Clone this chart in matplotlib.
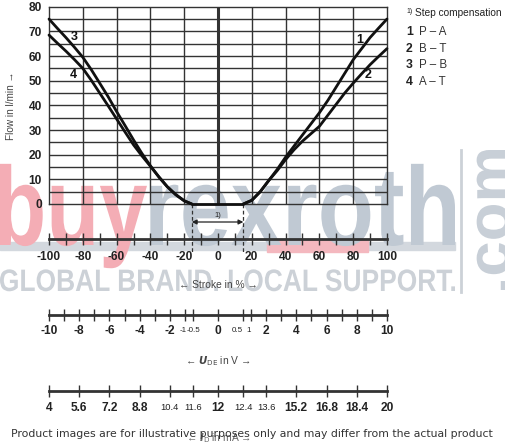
import numpy as np
import matplotlib
matplotlib.use("Agg")
import matplotlib.pyplot as plt
from matplotlib.transforms import blended_transform_factory, Affine2D
from matplotlib.textpath import TextPath
from matplotlib.patches import PathPatch
from matplotlib.font_manager import FontProperties

FAM = ['Liberation Sans', 'DejaVu Sans']
plt.rcParams['font.family'] = FAM

# curves (stroke in %, flow in l/min)
s_left = [-100, -95, -90, -85, -80, -75, -70, -65, -60, -55, -50, -45, -40, -35, -30, -25, -20, -15.5]
q_pb = [75, 71.2, 67.5, 63.6, 59.5, 54.5, 49, 43.5, 37.5, 31.8, 26, 20.5, 15.5, 11, 7, 3.8, 1.3, 0]
q_at = [68.5, 65.2, 62, 58.6, 55, 50.2, 45, 39.8, 34.5, 29.2, 24, 19.5, 15.3, 11, 7, 3.8, 1.3, 0]
s_right = [15, 20, 25, 30, 35, 40, 45, 50, 55, 60, 65, 70, 75, 80, 85, 90, 95, 100]
q_pa = [0, 1.5, 5, 9.5, 14, 19, 23.5, 28, 32.5, 37, 42, 47.5, 53, 58.5, 63, 67.5, 71.3, 75]
q_bt = [0, 1.5, 5, 9.5, 13.5, 18, 22, 25.5, 28.5, 31.5, 36, 40.5, 45, 49, 52.8, 56.5, 59.8, 63]
step_comp = [-15.5, 15]

stroke_ticks = list(range(-100, 101, 10))
stroke_labels = list(range(-100, 101, 20))
u_ticks = [-10, -9, -8, -7, -6, -5, -4, -3, -2, -1, -0.5, 0, 0.5, 1, 2, 3, 4, 5, 6, 7, 8, 9, 10]
u_labels = [-10, -8, -6, -4, -2, -1, -0.5, 0, 0.5, 1, 2, 4, 6, 8, 10]
i_labels = [4, 5.6, 7.2, 8.8, 10.4, 11.6, 12, 12.4, 13.6, 15.2, 16.8, 18.4, 20]
legend = [('1', 'P – A'), ('2', 'B – T'), ('3', 'P – B'), ('4', 'A – T')]


def u_to_stroke(u):
    u = np.asarray(u, dtype=float)
    a = np.abs(u)
    s = np.where(a <= 0.5, 30 * a, 15 + (a - 0.5) * 85 / 9.5)
    return np.sign(u) * s


def i_to_stroke(i):
    return u_to_stroke((np.asarray(i, dtype=float) - 12) / 0.8)


W, H = 506, 446
fig = plt.figure(figsize=(W / 100, H / 100), dpi=100)
fig.patch.set_facecolor('white')


def fx(px):
    return px / W


def fy(py):
    return (H - py) / H


def wm(s, left, base, width, em_h, color, weight='bold', rot=0):
    # watermark text squeezed to a given ink width (pixel coords)
    tp = TextPath((0, 0), s, size=100, prop=FontProperties(family='Liberation Sans', weight=weight))
    bb = tp.get_extents()
    sx = width / bb.width
    sy = em_h / 100
    tr = Affine2D().translate(-bb.x0, 0).scale(sx, sy).rotate_deg(rot).translate(left, H - base)
    p = PathPatch(tr.transform_path(tp), color=color, lw=0, zorder=-1,
                  transform=matplotlib.transforms.IdentityTransform())
    fig.patches.append(p)


# watermark
fig.patches.append(plt.Rectangle((fx(0), fy(250)), fx(455), 8 / H, transform=fig.transFigure,
                                 color='#d3d8de', zorder=-2))
fig.patches.append(plt.Rectangle((fx(267), fy(252)), fx(101), 12 / H, transform=fig.transFigure,
                                 color='#f4b8bf', zorder=-2))
wm('buy', -1, 245, 148, 112, '#f4adb5')
wm('rexroth', 150, 245, 305, 112, '#c0c9d3')
wm('GLOBAL BRAND. LOCAL SUPPORT.', 0, 291, 455, 31, '#ccd1d7')
wm('.com', 510, 290, 140, 62, '#c8cfd7', rot=90)
fig.lines.append(plt.Line2D([fx(461), fx(461)], [fy(150), fy(292)], transform=fig.transFigure,
                            color='#ccd1d7', lw=2, zorder=-1))

L, R = fx(49), fx(387)
ax = fig.add_axes([L, fy(204), R - L, (204 - 6.7) / H])
ax.patch.set_alpha(0)
ax.set_xlim(-100, 100)
ax.set_ylim(0, 80)
for x in range(-80, 81, 20):
    ax.axvline(x, color='#333333', lw=2.2 if x == 0 else 1, zorder=1)
for y in range(5, 80, 5):
    ax.axhline(y, color='#333333', lw=1, zorder=1)
for sp in ax.spines.values():
    sp.set_color('#333333')
    sp.set_linewidth(1)
ax.set_xticks([])
ax.set_yticks(range(0, 81, 10))
ax.tick_params(axis='y', length=0, pad=5)
for t in ax.get_yticklabels():
    t.set_fontweight('bold')
    t.set_fontsize(8.6)
    t.set_color('#222222')
ax.set_ylabel('Flow in l/min →', fontsize=7.2, color='#444444', labelpad=9)

kw = dict(color='#111111', lw=2, solid_capstyle='round', clip_on=False, zorder=3)
ax.plot(s_left, q_pb, **kw)
ax.plot(s_left, q_at, **kw)
ax.plot(s_right, q_pa, **kw)
ax.plot(s_right, q_bt, **kw)
ax.plot(step_comp, [0, 0], **kw)

for lab, x, y in [('3', -85.3, 67.7), ('4', -85.5, 52.4), ('1', 84, 66.6), ('2', 89, 52.4)]:
    ax.text(x, y, lab, fontsize=9, fontweight='bold', ha='center', va='center', color='#111111')

# legend text at right
fig.text(fx(406), fy(11.5), '1)', fontsize=5, va='center', ha='left', color='#222222')
fig.text(fx(415), fy(13), 'Step compensation', fontsize=7.3, va='center', ha='left', color='#222222')
for k, (num, name) in enumerate(legend):
    yy = fy(32.3 + k * 16.5)
    fig.text(fx(406), yy, num, fontsize=8.8, fontweight='bold', va='center', ha='left', color='#222222')
    fig.text(fx(419), yy, name, fontsize=8.3, va='center', ha='left', color='#333333')

# step compensation marks
bt = blended_transform_factory(ax.transData, fig.transFigure)
for s in step_comp:
    ax.plot([s, s], [fy(204), fy(254)], transform=bt, color='#333333', lw=0.9, ls=(0, (3, 2)),
            clip_on=False)
ax.annotate('', xy=(step_comp[1], fy(222)), xytext=(step_comp[0], fy(222)), xycoords=bt,
            textcoords=bt, arrowprops=dict(arrowstyle='<|-|>', color='#222222', lw=0.9,
                                           mutation_scale=7, shrinkA=0, shrinkB=0))
ax.text(0, fy(215.5), '1)', transform=bt, fontsize=5.5, ha='center', va='center', color='#222222')


def scale_axis(py, ticks, tall):
    a = fig.add_axes([L, fy(py), R - L, 0.0001])
    a.patch.set_alpha(0)
    a.set_xlim(-100, 100)
    a.set_ylim(0, 1)
    for k in ['top', 'left', 'right']:
        a.spines[k].set_visible(False)
    a.spines['bottom'].set_linewidth(2)
    a.spines['bottom'].set_color('#333333')
    a.set_yticks([])
    a.set_xticks(ticks)
    a.set_xticklabels([])
    a.tick_params(axis='x', direction='inout', length=9, width=1, color='#333333')
    a.set_xticks(tall, minor=True)
    a.tick_params(axis='x', which='minor', direction='inout', length=16, width=1, color='#333333')
    return a


def put_labels(a, py, values, pos, small, small_size, nudge=None):
    tr = blended_transform_factory(a.transData, fig.transFigure)
    nudge = nudge or {}
    for v, p in zip(values, pos):
        txt = '%g' % v
        sm = txt in small
        a.text(float(p) + nudge.get(txt, 0), fy(py), txt, transform=tr,
               fontsize=small_size if sm else 8.6,
               fontweight='normal' if sm else 'bold', ha='center', va='center', color='#222222')


a1 = scale_axis(239.3, stroke_ticks, [])
put_labels(a1, 256.5, stroke_labels, stroke_labels, [], 8.6)
fig.text(fx(218), fy(285), '← Stroke in % →', fontsize=7.4, ha='center', va='center', color='#444444')

a2 = scale_axis(315, u_to_stroke(u_ticks), u_to_stroke([-0.5, 0.5]))
put_labels(a2, 331, u_labels, u_to_stroke(u_labels), ['-1', '-0.5', '0.5', '1'], 5.8,
           nudge={'-1': -1.3, '-0.5': 0.8, '0.5': -3.5, '1': -1.5})
fig.text(fx(218), fy(361), r'← $\mathbfit{U}_{\mathrm{DE}}$ in V →', fontsize=7.4, ha='center',
         va='center', color='#444444')

a3 = scale_axis(391, i_to_stroke(i_labels), i_to_stroke([11.6, 12.4]))
put_labels(a3, 408, i_labels, i_to_stroke(i_labels), ['10.4', '11.6', '12.4', '13.6'], 6.8)
fig.text(fx(218), fy(438), r'← $\mathbfit{I}_{\mathrm{D}}$ in mA →', fontsize=7.4, ha='center',
         va='center', color='#666666')

fig.text(fx(252), fy(434), 'Product images are for illustrative purposes only and may differ from the actual product',
         fontsize=7.85, ha='center', va='center', color='#333333', family=['DejaVu Sans'])

fig.savefig('out.png', dpi=100)
